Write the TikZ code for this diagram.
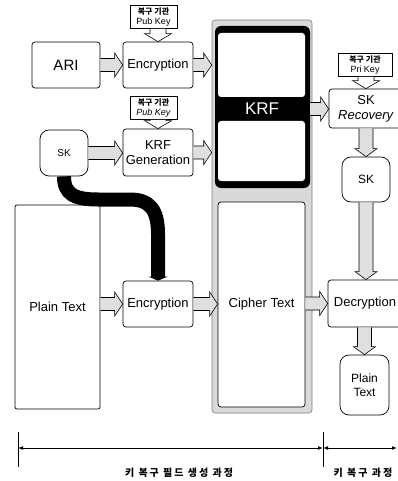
\documentclass[tikz,border=0pt]{standalone}
\usepackage{fontspec}
\setmainfont{Liberation Sans}
\newfontfamily\kr{Noto Sans CJK KR}
\newfontfamily\krsp[LetterSpace=20]{Noto Sans CJK KR}
\usetikzlibrary{arrows.meta,calc}
\begin{document}
\begin{tikzpicture}[x=1pt,y=-1pt,
  box/.style={draw, line width=0.7pt, rounded corners=3pt, inner sep=1pt,
              align=center, font=\fontsize{13}{15}\selectfont},
  rbox/.style={box, rounded corners=9pt},
  keybox/.style={draw, fill=white, line width=0.7pt, inner sep=1pt, align=center,
                 minimum height=23pt, font=\fontsize{9}{10}\selectfont},
  blk/.style n args={3}{draw, line width=0.6pt, fill=gray!25, to path={
      ($(\tikztotarget)!#3!(\tikztostart)$) coordinate (blk-m)
      ($(\tikztostart)!#1!90:(\tikztotarget)$) -- ($(blk-m)!#1!90:(\tikztotarget)$)
      -- ($(blk-m)!#2!90:(\tikztotarget)$) -- (\tikztotarget)
      -- ($(blk-m)!#2!-90:(\tikztotarget)$) -- ($(blk-m)!#1!-90:(\tikztotarget)$)
      -- ($(\tikztostart)!#1!-90:(\tikztotarget)$)}},
  harr/.style={blk={6.5pt}{12pt}{8pt}},
  varr/.style={blk={7pt}{11pt}{8pt}},
  keyarr/.style={blk={8pt}{13.5pt}{8pt}, fill=white},
  curly/.style={line width=14pt, -{Triangle[length=4pt,width=19pt]}},
  dim/.style={line width=0.7pt, {Latex[length=5pt]}-{Latex[length=5pt]}},
  colbox/.style={inner sep=0pt, minimum width=87pt},
]
  \useasboundingbox (0,0) rectangle (398,481);
  \clip (0,0) rectangle (398,481);

  % key recovery field generation
  \node[box, minimum width=68pt, minimum height=46pt,
        font=\fontsize{15}{17}\selectfont] (ari) at (66,65) {ARI};
  \node[box, minimum width=70pt, minimum height=46pt] (enc1) at (158,65) {Encryption};
  \node[keybox, minimum width=47pt] (pk1) at (153.5,17)
       {{\kr\bfseries\fontsize{8}{9}\selectfont 복구 기관}\\Pub Key};
  \node[rbox, minimum width=48pt, minimum height=46pt,
        font=\fontsize{10}{12}\selectfont] (sk1) at (64,153) {SK};
  \node[box, minimum width=70pt, minimum height=47pt] (kgen) at (158,152.5) {KRF\\Generation};
  \node[keybox, minimum width=47pt] (pk2) at (153.5,108)
       {{\kr\bfseries\fontsize{8}{9}\selectfont 복구 기관}\\\textit{Pub Key}};
  \node[box, rounded corners=2pt, minimum width=85pt, minimum height=204pt] (pt1) at (57.5,307) {Plain Text};
  \node[box, minimum width=70pt, minimum height=46pt] (enc2) at (158,304) {Encryption};

  % KRF column
  \node[draw=gray, fill=gray!30, line width=0.6pt, rounded corners=3pt, inner sep=0pt,
        minimum width=100pt, minimum height=393pt] (krfcol) at (262,216.5) {};
  \node[fill=black, rounded corners=6pt, inner sep=0pt,
        minimum width=95pt, minimum height=162pt] (krfblk) at (262.5,107) {};
  \node[colbox, fill=white, rounded corners=3pt, minimum height=64pt] (krfup) at (261.5,65) {};
  \node[colbox, fill=white, rounded corners=3pt, minimum height=60pt] (krflo) at (261.5,151) {};
  \node[text=white, font=\fontsize{17}{19}\selectfont] (krf) at (262,109) {KRF};
  \node[box, fill=white, minimum width=87pt, minimum height=205pt] (cipher) at (261.5,304.5) {Cipher Text};

  % key recovery
  \node[keybox, minimum width=54pt] (pr) at (365,65)
       {{\kr\bfseries\fontsize{8}{9}\selectfont 복구 기관}\\Pri Key};
  \node[box, minimum width=74pt, minimum height=39pt] (skrec) at (366,108.5) {SK\\\textit{Recovery}};
  \node[rbox, minimum width=48pt, minimum height=45pt,
        font=\fontsize{12}{14}\selectfont] (sk2) at (366,179.5) {SK};
  \node[box, minimum width=74pt, minimum height=47pt] (dec) at (365,303.5) {Decryption};
  \node[rbox, minimum width=49pt, minimum height=60pt,
        font=\fontsize{12}{14}\selectfont] (pt2) at (364.5,385) {Plain\\Text};

  \draw[harr] (ari.east) to (enc1.west);
  \draw[harr] (enc1.east) to (enc1.east -| krfcol.west);
  \draw[harr] (sk1.east) to (sk1.east -| kgen.west);
  \draw[harr] (kgen.east) to (kgen.east -| krfcol.west);
  \draw[harr] (pt1.east |- enc2.west) to (enc2.west);
  \draw[harr] (enc2.east) to (enc2.east -| cipher.west);
  \draw[harr] (krfblk.east |- krf) to (skrec.west |- krf);
  \draw[harr] (cipher.east |- dec.west) to (dec.west);
  \draw[varr] (skrec.south -| sk2.north) to (sk2.north);
  \draw[varr] (sk2.south) to (sk2.south |- dec.north);
  \draw[varr] (dec.south -| pt2.north) to (pt2.north);
  \draw[keyarr] (pk1.south -| enc1.north) to (enc1.north);
  \draw[keyarr] (pk2.south -| kgen.north) to (kgen.north);
  \draw[keyarr] (pr.south -| skrec.north) to (skrec.north);

  \draw[curly] (sk1.south) .. controls (64,194) and (74,199.5) .. (98,199.5)
    -- (130,199.5) .. controls (150,199.5) and (158,210) .. (158,234) -- (enc2.north);

  % process spans
  \coordinate (t1) at (18,448);
  \coordinate (t2) at (323,448);
  \coordinate (t3) at (397,448);
  \draw[line width=0.6pt] ([yshift=16pt]t1) -- ([yshift=-19pt]t1);
  \draw[line width=0.6pt] ([yshift=16pt]t2) -- ([yshift=-19pt]t2);
  \draw[dim] (t1) -- (t2);
  \draw[dim] (t2) -- (t3);
  \node[font=\krsp\bfseries\fontsize{10}{12}\selectfont] (lab1) at (179,473) {키 복구 필드 생성 과정};
  \node[font=\krsp\bfseries\fontsize{10}{12}\selectfont] (lab2) at (363,473) {키 복구 과정};
\end{tikzpicture}
\end{document}
